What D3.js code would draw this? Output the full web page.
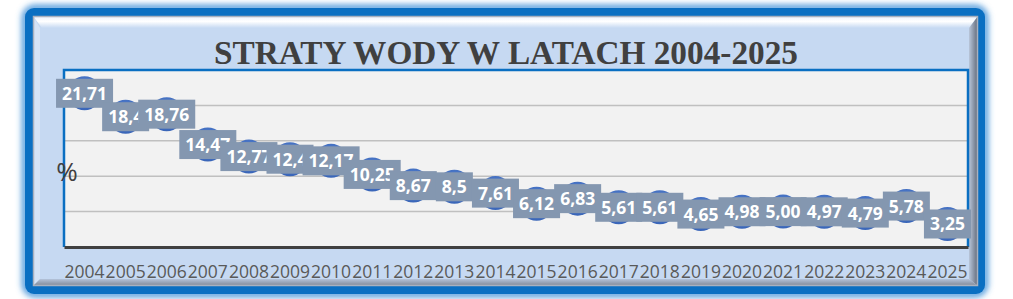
<!DOCTYPE html>
<html>
<head>
<meta charset="utf-8">
<script src="https://cdn.jsdelivr.net/npm/d3@7"></script>
<style>
  html, body { margin: 0; padding: 0; background: #ffffff; }
  svg { display: block; }
</style>
</head>
<body>
<div id="chart"></div>
<script>
// Data
var years = ["2004", "2005", "2006", "2007", "2008", "2009", "2010", "2011", "2012", "2013", "2014",
             "2015", "2016", "2017", "2018", "2019", "2020", "2021", "2022", "2023", "2024", "2025"];
var losses = [21.71, 18.4, 18.76, 14.47, 12.77, 12.4, 12.17, 10.25, 8.67, 8.5, 7.61,
              6.12, 6.83, 5.61, 5.61, 4.65, 4.98, 5.00, 4.97, 4.79, 5.78, 3.25];
var lossLabels = ["21,71", "18,4", "18,76", "14,47", "12,77", "12,4", "12,17", "10,25", "8,67", "8,5", "7,61",
                  "6,12", "6,83", "5,61", "5,61", "4,65", "4,98", "5,00", "4,97", "4,79", "5,78", "3,25"];
var yTicks = [0, 5, 10, 15, 20, 25];

var svgWidth = 1013, svgHeight = 299;
var plot = { left: 64, right: 968, top: 70, bottom: 247 };

var svg = d3.select("#chart").append("svg")
  .attr("width", svgWidth)
  .attr("height", svgHeight);

var defs = svg.append("defs");

var glow = defs.append("filter").attr("id", "glow")
  .attr("x", "-5%").attr("y", "-10%").attr("width", "110%").attr("height", "120%");
glow.append("feGaussianBlur").attr("stdDeviation", 3);

var topBevel = defs.append("linearGradient").attr("id", "topBevel")
  .attr("x1", 0).attr("y1", 0).attr("x2", 0).attr("y2", 1);
topBevel.append("stop").attr("offset", "0%").attr("stop-color", "#e9f1fc");
topBevel.append("stop").attr("offset", "45%").attr("stop-color", "#ffffff");
topBevel.append("stop").attr("offset", "100%").attr("stop-color", "#c6d9f2");

var rightBevel = defs.append("linearGradient").attr("id", "rightBevel")
  .attr("x1", 0).attr("y1", 0).attr("x2", 1).attr("y2", 0);
rightBevel.append("stop").attr("offset", "0%").attr("stop-color", "#b9c6da");
rightBevel.append("stop").attr("offset", "100%").attr("stop-color", "#5f6776");

var bottomBevel = defs.append("linearGradient").attr("id", "bottomBevel")
  .attr("x1", 0).attr("y1", 0).attr("x2", 0).attr("y2", 1);
bottomBevel.append("stop").attr("offset", "0%").attr("stop-color", "#b4c3da");
bottomBevel.append("stop").attr("offset", "100%").attr("stop-color", "#7d8593");

var marker = defs.append("radialGradient").attr("id", "marker")
  .attr("cx", "50%").attr("cy", "40%").attr("r", "60%");
marker.append("stop").attr("offset", "0%").attr("stop-color", "#5a87d6");
marker.append("stop").attr("offset", "100%").attr("stop-color", "#3965b8");

// Frame: glow, blue border, bevel, light blue fill
svg.append("rect")
  .attr("x", 25).attr("y", 8).attr("width", 960).attr("height", 286).attr("rx", 10)
  .attr("fill", "none").attr("stroke", "#3d8fd8").attr("stroke-width", 6)
  .attr("filter", "url(#glow)");
svg.append("rect")
  .attr("x", 25).attr("y", 8).attr("width", 960).attr("height", 286).attr("rx", 9)
  .attr("fill", "#0a6fc2");

var fx0 = 33, fy0 = 16, fx1 = 978, fy1 = 286, bv = 9;
svg.append("rect")
  .attr("x", fx0).attr("y", fy0).attr("width", fx1 - fx0).attr("height", fy1 - fy0)
  .attr("fill", "#c6d9f2");
// bevel sides
svg.append("path")
  .attr("d", `M${fx0},${fy0}L${fx1},${fy0}L${fx1 - bv},${fy0 + bv + 3}L${fx0 + bv},${fy0 + bv + 3}Z`)
  .attr("fill", "url(#topBevel)");
svg.append("path")
  .attr("d", `M${fx0},${fy0}L${fx0 + bv - 2},${fy0 + bv + 3}L${fx0 + bv - 2},${fy1 - bv + 2}L${fx0},${fy1}Z`)
  .attr("fill", "#d5e3f6");
svg.append("path")
  .attr("d", `M${fx1},${fy0}L${fx1},${fy1}L${fx1 - bv},${fy1 - bv + 2}L${fx1 - bv},${fy0 + bv + 3}Z`)
  .attr("fill", "url(#rightBevel)");
svg.append("path")
  .attr("d", `M${fx0},${fy1}L${fx1},${fy1}L${fx1 - bv},${fy1 - bv + 2}L${fx0 + bv - 2},${fy1 - bv + 2}Z`)
  .attr("fill", "url(#bottomBevel)");
svg.append("rect")
  .attr("x", fx0 + 0.5).attr("y", fy0 + 0.5).attr("width", fx1 - fx0 - 1).attr("height", fy1 - fy0 - 1)
  .attr("fill", "none").attr("stroke", "#a9b1bf").attr("stroke-width", 1.5);

// Title
svg.append("text")
  .attr("x", 506).attr("y", 64)
  .attr("text-anchor", "middle")
  .style("font-family", "'Liberation Serif', 'Times New Roman', serif")
  .style("font-weight", "bold")
  .style("font-size", "33.3px")
  .attr("fill", "#404040")
  .text("STRATY WODY W LATACH 2004-2025");

// Scales
var xScale = d3.scaleBand().domain(years).range([plot.left, plot.right]);
var yScale = d3.scaleLinear().domain([0, 25]).range([plot.bottom, plot.top]);

// Plot area
svg.append("rect")
  .attr("x", plot.left).attr("y", plot.top)
  .attr("width", plot.right - plot.left).attr("height", plot.bottom - plot.top)
  .attr("fill", "#f2f2f2");

svg.append("g")
  .selectAll("line")
  .data(yTicks.slice(1, -1))
  .enter().append("line")
    .attr("x1", plot.left).attr("x2", plot.right)
    .attr("y1", function(d) { return yScale(d); })
    .attr("y2", function(d) { return yScale(d); })
    .attr("stroke", "#c0c0c0").attr("stroke-width", 1.5);

svg.append("path")
  .attr("d", `M${plot.left},${plot.bottom}V${plot.top}H${plot.right}V${plot.bottom}`)
  .attr("fill", "none").attr("stroke", "#0a6fc2").attr("stroke-width", 2.5);

// x axis
var bottomAxis = d3.axisBottom(xScale).tickSize(0).tickPadding(19);
var xAxis = svg.append("g")
  .attr("transform", `translate(0, ${plot.bottom})`)
  .call(bottomAxis);
xAxis.select(".domain")
  .attr("stroke", "#404040").attr("stroke-width", 3);
xAxis.selectAll("text")
  .style("font-family", "'Open Sans', sans-serif")
  .style("font-size", "17.5px")
  .attr("fill", "#595959");

// y axis title
svg.append("text")
  .attr("x", 67).attr("y", 181)
  .attr("text-anchor", "middle")
  .style("font-family", "'Open Sans', sans-serif")
  .style("font-size", "26px")
  .attr("fill", "#404040")
  .text("%");

// Markers
svg.append("g")
  .selectAll("circle")
  .data(losses)
  .enter().append("circle")
    .attr("cx", function(d, i) { return xScale(years[i]) + xScale.bandwidth() / 2; })
    .attr("cy", function(d) { return yScale(d); })
    .attr("r", 17)
    .attr("fill", "url(#marker)");

// Data labels
var labels = svg.append("g")
  .selectAll("g")
  .data(losses)
  .enter().append("g")
    .attr("transform", function(d, i) {
      return `translate(${xScale(years[i]) + xScale.bandwidth() / 2}, ${yScale(d)})`;
    });

labels.append("text")
  .attr("class", "lbl")
  .attr("text-anchor", "middle")
  .attr("dy", "0.37em")
  .style("font-family", "'Open Sans', sans-serif")
  .style("font-weight", "bold")
  .style("font-size", "17.5px")
  .attr("fill", "#ffffff")
  .text(function(d, i) { return lossLabels[i]; });

labels.each(function() {
  var g = d3.select(this);
  var w = g.select("text").node().getComputedTextLength() + 12;
  g.insert("rect", "text")
    .attr("x", -w / 2).attr("y", -14.5)
    .attr("width", w).attr("height", 29)
    .attr("fill", "#8497b0");
});
</script>
</body>
</html>
